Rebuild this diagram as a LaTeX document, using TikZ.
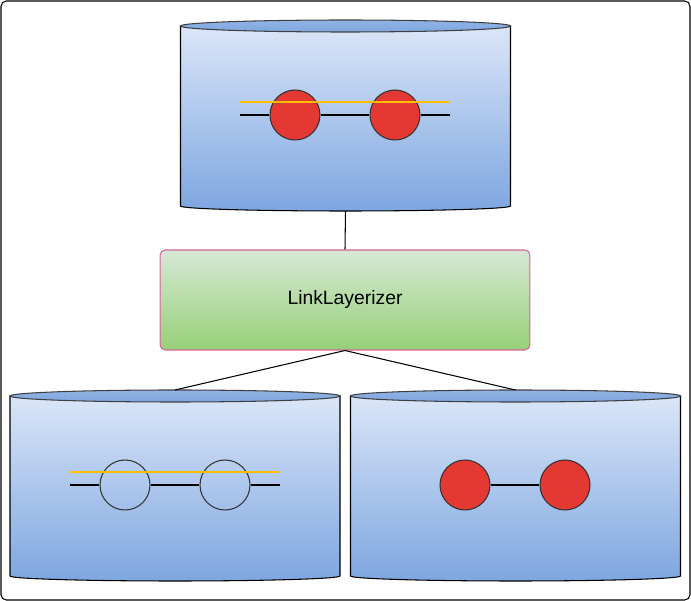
\documentclass[tikz,border=0pt]{standalone}
\usepackage{fontspec}
\setmainfont{Liberation Sans}
\usetikzlibrary{positioning, shapes.geometric}
\definecolor{dbtop}{RGB}{218,230,248}
\definecolor{dbbot}{RGB}{126,166,224}
\definecolor{gntop}{RGB}{213,232,212}
\definecolor{gnbot}{RGB}{151,208,119}
\definecolor{pinkline}{RGB}{214,99,155}
\definecolor{beadred}{RGB}{228,57,51}
\definecolor{layerorange}{RGB}{255,190,0}
\newcommand\linkdb[3]{\shade[top color=dbtop, bottom color=dbbot, draw=black, line width=0.6pt] (#2-165,#3) -- (#2-165,#3-180) arc[start angle=180, end angle=360, x radius=165, y radius=5] -- (#2+165,#3) -- cycle;\shade[top color=dbbot!85!white, bottom color=dbbot, draw=black!75, line width=0.6pt] (#2,#3) ellipse [x radius=165, y radius=6];\coordinate (#1top) at (#2,#3+6);\coordinate (#1bot) at (#2,#3-185);}

\begin{document}
\begin{tikzpicture}[x=0.02cm, y=0.02cm,
	wire/.style={draw=black, line width=0.6pt},
	layer/.style={draw=layerorange, line width=1.5pt},
	bead/.style={circle, draw=black!80, line width=0.6pt, minimum size=1cm, inner sep=0pt},
	fullbead/.style={bead, fill=beadred},
	layerizer/.style={rectangle, rounded corners=3pt, draw=pinkline, line width=0.6pt, top color=gntop, bottom color=gnbot, minimum width=7.4cm, minimum height=2cm, font=\fontsize{11}{13}\selectfont}]
	\useasboundingbox (0,0) rectangle (691,-601);
	\draw[rounded corners=3pt, line width=0.6pt] (1,-1) rectangle (690,-600);
	\linkdb{src}{345.5}{-26}
	\linkdb{open}{175}{-396}
	\linkdb{lyr}{515.5}{-396}
	\node[layerizer] (llz) at (345,-300) {LinkLayerizer};
	\draw[wire] (srcbot) -- (llz.north);
	\draw[wire] (llz.south) -- (opentop);
	\draw[wire] (llz.south) -- (lyrtop);
	% source links
	\coordinate (s0) at (240,-115);
	\coordinate (s3) at (450,-115);
	\node[fullbead] (s1) at (295,-115) {};
	\node[fullbead] (s2) at (395,-115) {};
	\draw[wire] (s0) -- (s1) (s1) -- (s2) (s2) -- (s3);
	\coordinate (sa) at (240,-102);
	\coordinate (sb) at (450,-102);
	\draw[layer] (sa) -- (sb);
	% open links
	\coordinate (o0) at (70,-485);
	\coordinate (o3) at (280,-485);
	\node[bead] (o1) at (125,-485) {};
	\node[bead] (o2) at (225,-485) {};
	\draw[wire] (o0) -- (o1) (o1) -- (o2) (o2) -- (o3);
	\coordinate (oa) at (70,-472);
	\coordinate (ob) at (280,-472);
	\draw[layer] (oa) -- (ob);
	% layered links
	\node[fullbead] (l1) at (465,-485) {};
	\node[fullbead] (l2) at (565,-485) {};
	\draw[wire] (l1) -- (l2);
\end{tikzpicture}
\end{document}
